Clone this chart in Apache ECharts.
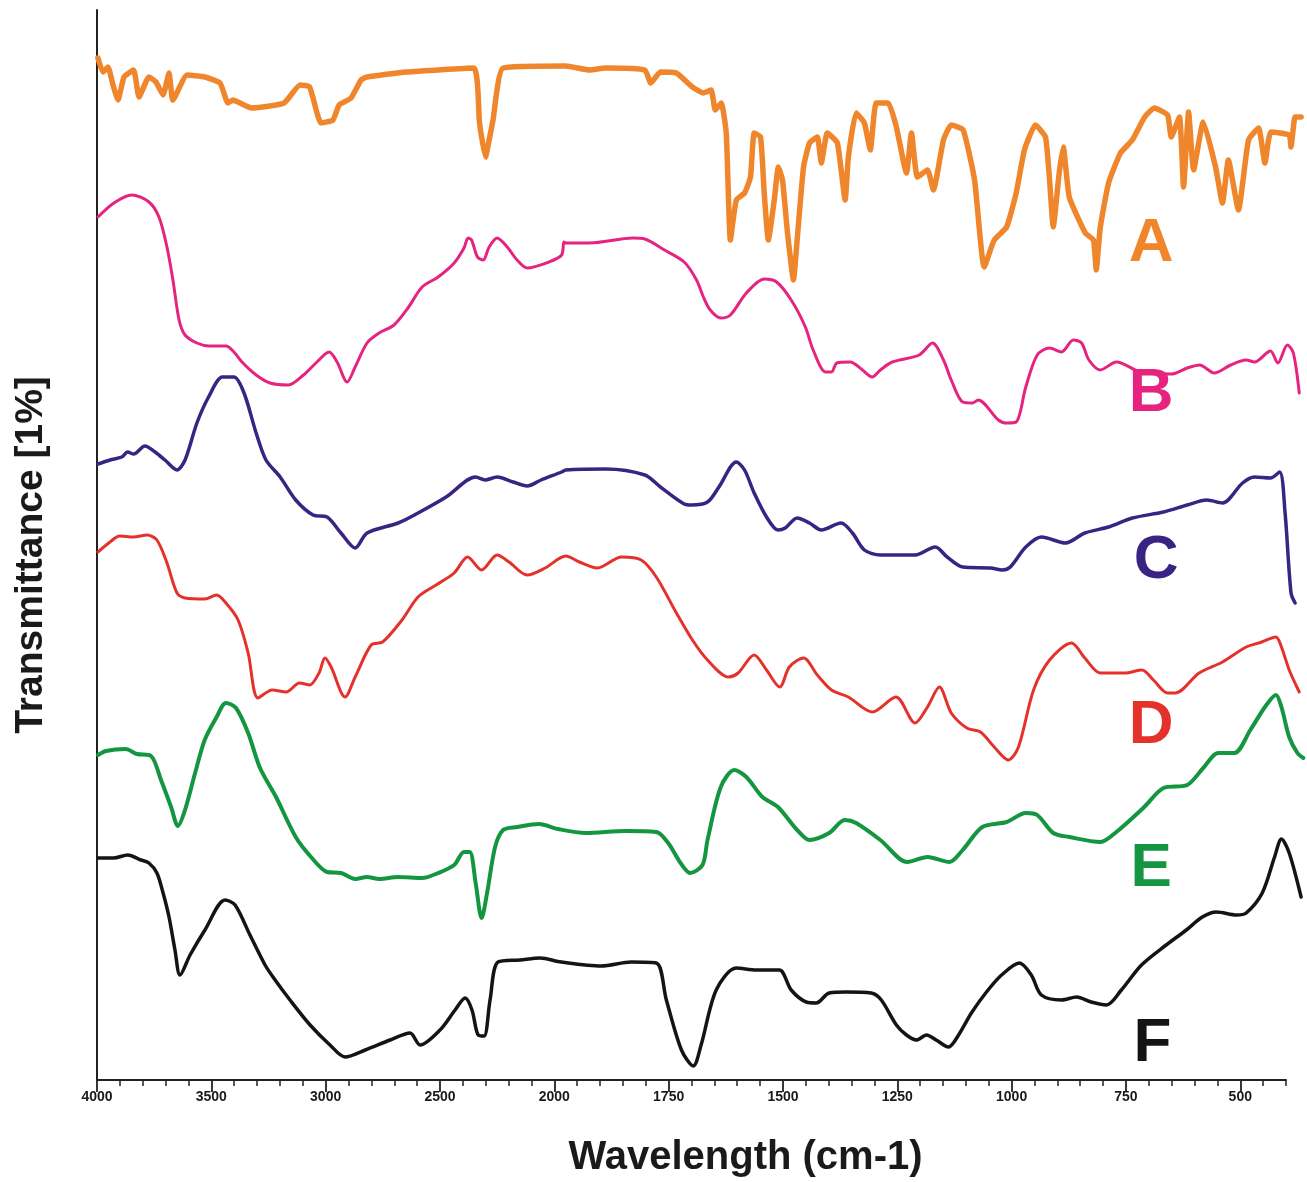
<!DOCTYPE html>
<html>
<head>
<meta charset="utf-8">
<script src="https://cdn.jsdelivr.net/npm/echarts@6/dist/echarts.min.js"></script>
<style>
  html, body { margin: 0; padding: 0; background: #ffffff; }
  #chart { width: 1307px; height: 1182px; }
</style>
</head>
<body>
<div id="chart"></div>
<script>
// FTIR spectra, stacked with offsets: [wavenumber (cm-1), transmittance (a.u.)]
const spectrumA = [
  [3996,102.2],[3974,100.8],[3952,101.3],[3930,99.5],[3908,98.0],[3882,100.3],[3840,101.0],[3816,98.3],
  [3773,100.3],[3742,99.8],[3711,98.5],[3685,100.7],[3668,98.0],[3606,100.5],[3528,100.3],[3462,99.7],
  [3427,97.7],[3405,98.0],[3383,97.8],[3322,97.2],[3182,97.7],[3112,99.5],[3070,99.3],[3020,95.7],
  [2968,96.0],[2941,97.5],[2889,98.2],[2845,100.0],[2819,100.3],[2648,100.8],[2353,101.2],[2327,95.7],
  [2301,92.3],[2285,94.0],[2268,96.0],[2224,101.2],[1975,101.4],[1923,101.0],[1888,101.2],[1802,101.0],
  [1789,99.7],[1768,100.8],[1733,100.7],[1698,99.3],[1674,98.7],[1657,99.0],[1648,97.0],[1635,97.7],
  [1624,94.7],[1615,84.0],[1602,88.0],[1584,88.7],[1571,90.3],[1563,94.7],[1549,94.3],[1541,88.7],
  [1532,84.0],[1519,88.0],[1510,91.3],[1501,90.0],[1490,84.7],[1477,80.0],[1469,84.0],[1455,91.3],
  [1442,93.7],[1425,94.3],[1416,91.7],[1403,94.7],[1381,93.7],[1364,88.0],[1357,92.3],[1340,96.7],
  [1322,95.7],[1309,93.0],[1296,97.7],[1270,97.7],[1252,95.3],[1230,90.7],[1219,94.7],[1206,90.3],
  [1184,91.0],[1171,89.0],[1149,94.0],[1132,95.5],[1106,95.0],[1081,90.0],[1060,81.3],[1038,84.0],
  [1011,85.3],[990,88.7],[972,93.0],[948,95.5],[926,94.3],[917,90.0],[909,85.3],[896,90.7],
  [887,93.3],[874,88.3],[839,84.7],[821,84.0],[815,81.0],[806,85.3],[788,89.7],[762,92.7],
  [736,94.0],[709,96.3],[688,97.2],[659,96.5],[651,94.3],[633,96.3],[624,89.3],[613,96.8],
  [602,91.0],[581,95.8],[554,91.3],[539,87.7],[526,92.0],[504,87.0],[482,94.0],[460,95.2],
  [446,91.7],[433,94.8],[393,94.5],[389,93.3],[380,96.3],[367,96.3]
];
const spectrumB = [
  [3996,86.3],[3926,87.7],[3849,88.5],[3773,87.8],[3729,86.3],[3694,83.3],[3668,80.0],[3641,76.0],
  [3615,74.5],[3563,73.7],[3510,73.4],[3436,73.4],[3401,72.8],[3366,71.8],[3304,70.5],[3243,69.7],
  [3164,69.5],[3097,70.5],[3038,71.8],[2985,72.8],[2950,71.8],[2906,69.8],[2871,71.3],[2819,73.7],
  [2766,74.7],[2701,75.5],[2640,77.2],[2578,79.3],[2508,80.3],[2438,81.7],[2395,83.2],[2377,84.2],
  [2362,84.0],[2336,82.3],[2311,82.0],[2285,83.3],[2250,84.2],[2206,83.3],[2163,82.0],[2119,81.2],
  [2024,81.8],[1984,82.5],[1979,83.8],[1975,83.7],[1923,83.7],[1828,84.2],[1802,84.1],[1759,83.0],
  [1716,81.8],[1689,80.0],[1674,78.3],[1659,77.0],[1636,76.2],[1615,76.5],[1580,78.7],[1541,80.1],
  [1514,79.8],[1482,78.0],[1451,75.3],[1434,73.0],[1407,70.8],[1394,70.8],[1382,71.7],[1353,71.8],
  [1326,71.0],[1305,70.3],[1287,71.0],[1261,71.8],[1202,72.5],[1173,73.7],[1149,72.0],[1132,70.0],
  [1107,67.8],[1086,67.7],[1073,68.0],[1029,66.0],[1011,65.7],[990,65.8],[969,69.3],[944,72.5],
  [917,73.2],[891,72.8],[865,74.0],[847,73.7],[831,72.0],[806,71.0],[771,71.8],[718,70.8],
  [651,70.6],[616,71.2],[589,71.5],[557,70.7],[521,71.5],[487,72.0],[469,71.8],[434,72.9],
  [418,71.7],[397,73.5],[384,72.7],[371,68.7]
];
const spectrumC = [
  [3996,61.6],[3943,62.0],[3892,62.3],[3866,62.8],[3840,62.6],[3790,63.4],[3746,62.8],[3703,62.0],
  [3650,61.0],[3615,62.0],[3563,65.7],[3512,68.3],[3451,70.3],[3401,70.3],[3357,68.7],[3304,64.7],
  [3261,62.0],[3199,60.3],[3131,58.0],[3055,56.5],[2994,56.3],[2933,54.7],[2871,53.2],[2819,54.7],
  [2683,55.7],[2596,56.7],[2473,58.3],[2344,60.3],[2303,60.0],[2250,60.3],[2180,59.8],[2119,59.4],
  [2058,60.0],[1984,60.8],[1975,61.0],[1888,61.1],[1802,60.5],[1768,59.3],[1716,57.6],[1700,57.5],
  [1665,57.8],[1640,59.3],[1602,61.8],[1584,61.0],[1563,58.7],[1536,56.3],[1511,55.0],[1495,55.2],
  [1469,56.2],[1442,55.7],[1416,55.0],[1373,55.7],[1348,54.7],[1322,53.0],[1287,52.5],[1211,52.5],
  [1167,53.3],[1141,52.3],[1107,51.3],[1046,51.2],[1020,51.0],[1003,51.3],[969,53.3],[935,54.3],
  [882,53.7],[840,54.7],[788,55.3],[736,56.2],[668,56.8],[616,57.5],[573,58.0],[539,57.7],
  [495,59.7],[469,60.3],[434,60.2],[414,60.8],[402,56.7],[389,48.7],[380,47.7]
];
const spectrumD = [
  [3996,52.8],[3943,53.8],[3901,54.4],[3840,54.3],[3781,54.5],[3738,54.0],[3694,51.7],[3650,48.7],
  [3615,48.2],[3528,48.1],[3477,48.5],[3436,47.7],[3383,46.0],[3339,42.7],[3296,38.2],[3234,39.0],
  [3173,38.8],[3114,39.7],[3070,39.5],[3029,40.7],[3003,42.2],[2976,41.3],[2915,38.3],[2871,40.3],
  [2801,43.5],[2751,43.8],[2666,46.0],[2596,48.3],[2517,49.5],[2438,50.7],[2379,52.3],[2318,51.0],
  [2250,52.5],[2198,51.8],[2119,50.5],[2040,51.2],[1975,52.4],[1945,51.8],[1906,51.2],[1853,52.3],
  [1810,52.0],[1777,50.3],[1733,46.7],[1698,44.0],[1665,42.0],[1619,40.3],[1598,40.7],[1563,42.5],
  [1536,41.0],[1507,39.3],[1486,41.3],[1455,42.2],[1425,40.5],[1394,39.0],[1357,38.3],[1305,36.8],
  [1253,38.3],[1211,35.7],[1184,37.3],[1158,39.3],[1132,36.7],[1098,35.2],[1068,34.8],[1038,33.3],
  [1007,32.0],[985,33.3],[952,39.0],[917,42.0],[869,43.7],[840,42.2],[806,40.7],[753,40.7],
  [715,41.0],[690,40.0],[659,38.7],[642,38.7],[590,40.7],[539,41.8],[487,43.3],[453,43.8],
  [422,44.3],[410,43.3],[393,41.0],[371,38.8]
];
const spectrumE = [
  [3996,32.5],[3961,32.9],[3875,33.1],[3825,32.6],[3764,32.4],[3720,30.0],[3676,27.3],[3646,25.4],
  [3615,27.0],[3571,30.7],[3529,34.0],[3477,36.3],[3436,37.7],[3392,37.2],[3339,34.7],[3287,31.2],
  [3217,28.3],[3131,24.3],[3064,22.3],[2994,20.8],[2933,20.7],[2871,20.1],[2819,20.3],[2766,20.1],
  [2683,20.3],[2578,20.2],[2508,20.7],[2438,21.5],[2395,22.8],[2370,22.8],[2344,19.7],[2318,16.2],
  [2294,18.7],[2259,23.3],[2224,25.0],[2163,25.3],[2067,25.6],[1992,25.1],[1932,24.7],[1845,24.9],
  [1777,24.8],[1751,23.7],[1724,21.7],[1703,20.7],[1676,21.5],[1665,24.0],[1636,29.3],[1606,31.0],
  [1580,30.3],[1545,28.3],[1511,27.3],[1469,25.0],[1442,24.0],[1399,24.7],[1365,26.0],[1340,25.7],
  [1287,24.0],[1228,21.8],[1184,22.3],[1136,21.8],[1107,23.0],[1064,25.3],[1011,25.8],[969,26.7],
  [944,26.5],[909,24.7],[874,24.3],[806,23.8],[771,24.8],[710,27.3],[668,29.2],[616,29.5],
  [581,31.2],[548,32.7],[513,32.7],[478,35.0],[446,37.3],[422,38.5],[410,37.3],[393,34.3],
  [375,32.7],[362,32.2]
];
const spectrumF = [
  [3996,22.2],[3927,22.2],[3866,22.5],[3808,22.0],[3773,21.7],[3738,20.7],[3711,18.7],[3685,16.3],
  [3659,13.0],[3637,10.5],[3593,12.5],[3528,15.0],[3440,18.0],[3396,17.5],[3331,14.5],[3265,11.5],
  [3221,10.0],[3156,8.0],[3068,5.5],[2981,3.5],[2915,2.3],[2827,3.0],[2718,4.0],[2631,4.7],
  [2587,3.5],[2500,5.0],[2434,7.0],[2390,8.2],[2360,7.0],[2333,4.5],[2307,4.4],[2281,8.0],
  [2246,11.8],[2150,12.0],[2062,12.2],[1985,11.8],[1897,11.4],[1832,11.8],[1777,11.7],[1755,8.0],
  [1722,3.0],[1696,1.4],[1679,3.5],[1646,9.0],[1602,11.2],[1558,11.0],[1508,11.0],[1482,9.0],
  [1449,7.8],[1427,7.7],[1399,8.7],[1361,8.8],[1307,8.7],[1285,8.0],[1252,5.5],[1230,4.5],
  [1208,4.0],[1186,4.5],[1165,4.0],[1138,3.3],[1116,4.5],[1088,6.7],[1055,8.8],[1022,10.5],
  [983,11.7],[957,10.5],[935,8.5],[891,8.0],[858,8.3],[826,7.8],[793,7.5],[760,9.0],
  [716,11.5],[662,13.5],[618,15.0],[583,16.3],[552,16.8],[508,16.5],[487,16.7],[452,18.7],
  [425,22.3],[410,24.1],[393,22.7],[367,18.3]
];

const seriesNames = ['A', 'B', 'C', 'D', 'E', 'F'];
const seriesColors = ['#F0862B', '#E6237E', '#3A2483', '#E5312B', '#13963F', '#141414'];
const lineWidths = [5.5, 3, 3.5, 3, 4, 3.5];
// where each curve's letter sits: [wavenumber, transmittance]
const letterAnchors = [[695, 83.6], [695, 68.6], [684, 51.9], [695, 35.4], [695, 21.1], [692, 3.6]];

const tickLabels = [4000, 3500, 3000, 2500, 2000, 1750, 1500, 1250, 1000, 750, 500];
const axisEnd = 400;      // drawn axis stops here
const dataEnd = 360;      // spectra run a little past the axis end

// The wavenumber axis is expanded by a factor of two below 2000 cm-1.
function toAxis(w) {
  return w >= 2000 ? (4000 - w) / 500 : 4 + (2000 - w) / 250;
}
function fromAxis(u) {
  return u <= 4 ? 4000 - 500 * u : 2000 - 250 * (u - 4);
}

const minorWaves = [];
for (let w = 3900; w > 2000; w -= 100) if (w % 500 !== 0) minorWaves.push(w);
for (let w = 1950; w >= axisEnd; w -= 50) if (w % 250 !== 0) minorWaves.push(w);

const spectra = [spectrumA, spectrumB, spectrumC, spectrumD, spectrumE, spectrumF];
const FONT = '"Liberation Sans", Arial, Helvetica, sans-serif';

// plot geometry: both grids share the same left edge and pixels-per-unit
const LEFT = 97, TOP = 10, BOTTOM = 102, WIDTH = 1307;
const pxPerUnit = (WIDTH - 21 - LEFT) / toAxis(axisEnd);
const dataRight = WIDTH - LEFT - pxPerUnit * toAxis(dataEnd);

const chart = echarts.init(document.getElementById('chart'), null, { renderer: 'canvas' });

const series = spectra.map((data, i) => ({
  name: seriesNames[i],
  type: 'line',
  xAxisIndex: 0,
  yAxisIndex: 0,
  data: data.map(p => [toAxis(p[0]), p[1]]),
  showSymbol: false,
  symbol: 'none',
  smooth: i === 0 ? 0.15 : 0.3,
  clip: false,
  silent: true,
  lineStyle: { color: seriesColors[i], width: lineWidths[i], join: 'round', cap: 'round' },
  z: 10 - i,
  markPoint: {
    symbol: 'circle',
    symbolSize: 1,
    itemStyle: { color: 'rgba(0,0,0,0)' },
    silent: true,
    data: [{ coord: [toAxis(letterAnchors[i][0]), letterAnchors[i][1]], value: seriesNames[i] }],
    label: {
      show: true,
      position: 'inside',
      formatter: seriesNames[i],
      color: seriesColors[i],
      fontSize: 62,
      fontWeight: 'bold',
      fontFamily: FONT
    }
  }
}));

chart.setOption({
  backgroundColor: '#ffffff',
  animation: false,
  grid: [
    { left: LEFT, right: dataRight, top: TOP, bottom: BOTTOM, containLabel: false, outerBoundsMode: 'none' },
    { left: LEFT, right: 21, top: TOP, bottom: BOTTOM, containLabel: false, outerBoundsMode: 'none' }
  ],
  xAxis: [
    {
      // data scale, not drawn
      gridIndex: 0, type: 'value', min: 0, max: toAxis(dataEnd), show: false
    },
    {
      gridIndex: 1,
      type: 'value',
      min: 0,
      max: toAxis(axisEnd),
      name: 'Wavelength (cm-1)',
      nameLocation: 'middle',
      nameGap: 58,
      nameTextStyle: {
        fontSize: 40, fontWeight: 'bold', color: '#1a1a1a', fontFamily: FONT,
        padding: [0, 0, 0, 108]
      },
      axisLine: { show: true, onZero: false, lineStyle: { color: '#222', width: 2 } },
      axisTick: {
        show: true, inside: false, length: 12,
        lineStyle: { color: '#222', width: 1.8 },
        customValues: tickLabels.map(toAxis)
      },
      axisLabel: {
        show: true, margin: 10,
        customValues: tickLabels.map(toAxis),
        formatter: v => String(Math.round(fromAxis(v))),
        fontSize: 14, fontWeight: 'bold', color: '#1a1a1a', fontFamily: FONT
      },
      splitLine: { show: false }
    },
    {
      gridIndex: 1,
      type: 'value',
      min: 0,
      max: toAxis(axisEnd),
      position: 'bottom',
      offset: 0,
      axisLine: { show: false },
      axisTick: {
        show: true, inside: false, length: 6,
        lineStyle: { color: '#222', width: 1.5 },
        customValues: minorWaves.map(toAxis)
      },
      axisLabel: { show: false },
      splitLine: { show: false }
    }
  ],
  yAxis: [
    {
      gridIndex: 0, type: 'value', min: 0, max: 107, show: false
    },
    {
      gridIndex: 1,
      type: 'value',
      min: 0,
      max: 107,
      name: 'Transmittance [1%]',
      nameLocation: 'middle',
      nameGap: 46,
      nameTextStyle: {
        fontSize: 39, fontWeight: 'bold', color: '#1a1a1a', fontFamily: FONT,
        padding: [0, 20, 0, 0]
      },
      axisLine: { show: true, lineStyle: { color: '#222', width: 2 } },
      axisTick: { show: false },
      axisLabel: { show: false },
      splitLine: { show: false }
    }
  ],
  series: series
});
</script>
</body>
</html>
